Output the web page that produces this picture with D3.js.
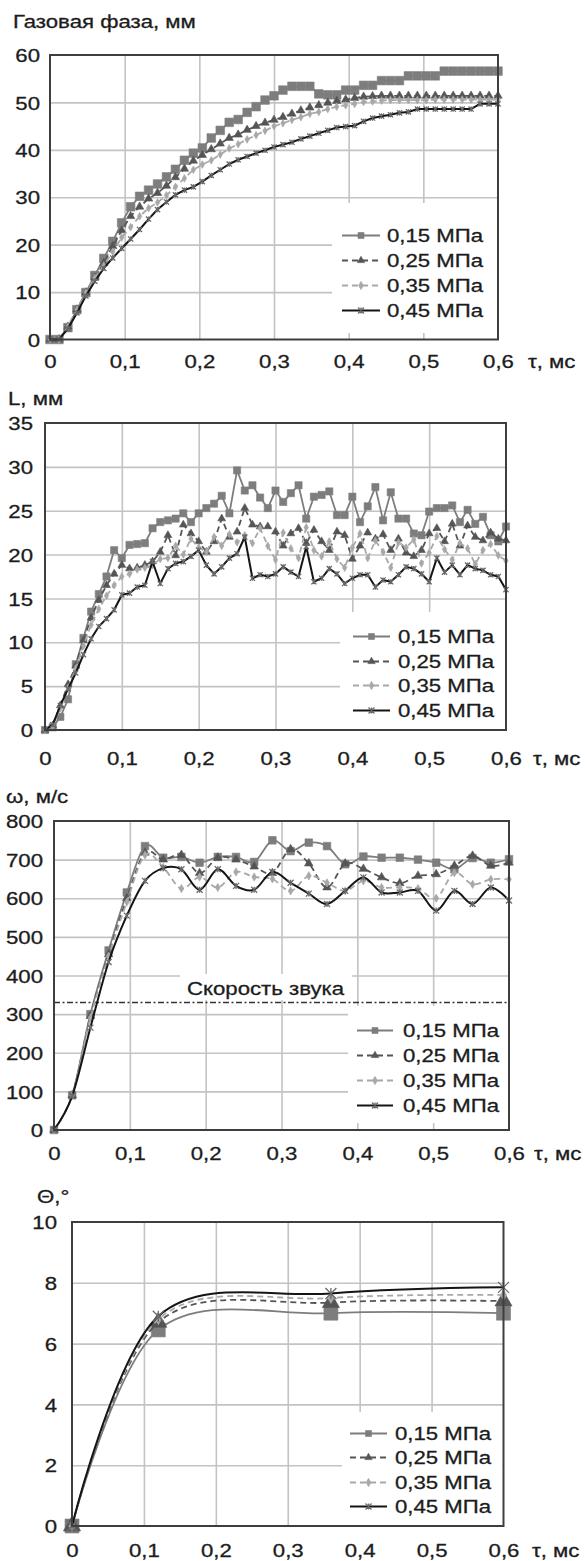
<!DOCTYPE html>
<html>
<head>
<meta charset="utf-8">
<script src="https://cdn.jsdelivr.net/npm/d3@7"></script>
<style>
  body { margin: 0; background: #fff; }
  svg text { font-family: "Liberation Sans", Arial, sans-serif; font-size: 18.5px; fill: #1c1c1c; stroke: #1c1c1c; stroke-width: 0.3px; }
</style>
</head>
<body>
<script>
// ---- data ----
const seriesLabels = ['0,15 МПа', '0,25 МПа', '0,35 МПа', '0,45 МПа'];
const xTickVals = [0, 0.1, 0.2, 0.3, 0.4, 0.5, 0.6];

// panel 1: gas phase, mm
const t1 = [0,0.012,0.024,0.036,0.048,0.06,0.072,0.084,0.096,0.108,0.12,0.132,0.144,0.156,0.168,0.18,0.192,0.204,0.216,0.228,0.24,0.252,0.264,0.276,0.288,0.3,0.312,0.324,0.336,0.348,0.36,0.372,0.384,0.396,0.408,0.42,0.432,0.444,0.456,0.468,0.48,0.492,0.504,0.516,0.528,0.54,0.552,0.564,0.576,0.588,0.6];
const gas015 = [0,0,2.5,6.3,9.9,13.5,17.1,20.7,24.6,28,30.2,31.5,32.8,34.3,35.9,37.8,39.3,40.4,42.5,44.1,45.8,46.4,47.9,49.1,50.5,51.4,52.6,53.4,53.4,53.4,51.8,51.6,51.6,52.6,52.6,53.6,53.6,54.6,54.6,54.6,55.6,55.6,55.6,55.6,56.6,56.6,56.6,56.6,56.6,56.6,56.6];
const gas025 = [0,0,2.7,6.3,9.9,13,16.1,19.7,23,26,28,29.7,30.9,32.4,34.2,36,37.7,38.9,40.1,41.3,42.5,43.2,44.2,45,45.7,46.3,46.9,47.6,48.3,48.9,49.4,49.9,50.3,50.6,50.9,51.2,51.3,51.4,51.4,51.4,51.4,51.4,51.4,51.4,51.4,51.4,51.4,51.4,51.4,51.4,51.4];
const gas035 = [0,0,2.7,6.3,9.9,13,15.6,18.5,21.5,23.7,26,27.7,28.9,30.4,32.2,34,35.8,36.9,37.8,39,40.3,41.2,42.2,43.1,44,45,45.6,46.3,46.9,47.6,48,48.6,49.1,49.4,49.7,50.1,50.2,50.4,50.5,50.5,50.5,50.5,50.5,50.6,50.6,50.6,50.6,50.6,50.6,50.6,50.6];
const gas045 = [0,0,2.3,5.6,9.2,12.3,15,17.2,19.2,21.2,23.2,25.4,27.4,29,30.5,31.5,32.2,33.3,34.6,35.8,37,37.9,38.6,39.3,39.9,40.6,41.1,41.6,42.3,42.9,43.5,44.1,44.7,44.9,45.1,46,46.7,47.1,47.4,47.8,48,48.6,48.6,48.6,48.6,48.6,48.6,48.6,49.7,49.7,49.7];

// panel 2: L, mm
const t2 = [0,0.01,0.02,0.03,0.04,0.05,0.06,0.07,0.08,0.09,0.1,0.11,0.12,0.13,0.14,0.15,0.16,0.17,0.18,0.19,0.2,0.21,0.22,0.23,0.24,0.25,0.26,0.27,0.28,0.29,0.3,0.31,0.32,0.33,0.34,0.35,0.36,0.37,0.38,0.39,0.4,0.41,0.42,0.43,0.44,0.45,0.46,0.47,0.48,0.49,0.5,0.51,0.52,0.53,0.54,0.55,0.56,0.57,0.58,0.59,0.6];
const len015 = [0,0.3,1.5,3.5,7.5,10.5,13.5,15.5,17.5,20.5,19.6,21.1,21.2,21.3,23,23.7,23.9,24.1,24.7,23.7,24.7,25.3,25.8,26.7,24.7,29.6,27.3,27.9,26.5,25.3,27.3,26,27,27.9,24.1,26.6,26.8,27.2,24.5,24.5,26.6,23.7,25.5,27.7,23.9,27.1,24.1,24.1,22.4,22.2,24.9,25.3,25.3,25.6,23.7,25.1,23.5,24.3,22.2,21.5,23.2];
const len025 = [0,0.5,2.8,5.2,7.3,10.2,12.8,14.8,16.5,17.8,18.8,18.4,18.5,18.8,19.2,20.3,22.2,19.9,23.4,22.4,21.5,20.3,21.5,24.1,22,22.6,25.3,23.4,23.2,23.2,22.6,21,22.4,23,21.3,22.8,21.5,20.5,22.6,22.2,19.5,21,22.5,21.8,22.3,20.5,21.8,20.2,19.8,20.5,22.4,23,21.5,23.5,21,23.3,22,21.6,22.5,21.8,21.6];
const len035 = [0,0.4,2.5,4.8,7,9.6,12,13.8,15.3,16.5,17.5,17.8,18.3,18.5,18.8,19.5,19.6,21,20,21.8,20.8,20.3,22,21,22.3,21.4,22.2,21.3,23,21,19.4,22.5,20.7,19.6,23.1,20.5,19.8,21.5,19.5,18.5,20.8,22.4,19.6,21.6,20.3,18.5,21.4,20.8,21.7,19,20.2,22.1,20.6,19.4,21.3,20.7,18.9,20.5,21.2,19.9,19.3];
const len045 = [0,0.6,2.8,4.7,6.5,8.6,10.4,11.8,12.7,13.7,15.4,15.6,16.3,16.5,19.2,16.7,18.4,19,19.2,19.8,20.5,18.8,17.8,18.6,19.6,20.1,22,17.3,17.7,17.5,17.8,18.6,18,17.5,20.9,16.9,17.3,18.4,17.8,16.7,17.3,17.7,17.7,16.3,17.1,16.9,17.7,18.6,18.4,17.8,16.9,19.6,18,18.8,17.7,18.8,18.4,18.2,17.7,17.5,16];

// panel 3: velocity, m/s
const t3 = [0,0.024,0.048,0.072,0.096,0.12,0.144,0.168,0.192,0.216,0.24,0.264,0.288,0.312,0.336,0.36,0.384,0.408,0.432,0.456,0.48,0.504,0.528,0.552,0.576,0.6];
const vel015 = [0,90,300,465,615,735,705,707,692,707,707,694,750,722,744,735,688,708,705,705,700,692,675,704,692,701];
const vel025 = [0,90,295,455,600,718,700,712,665,705,700,682,665,727,690,628,690,676,654,639,658,662,684,710,684,692];
const vel035 = [0,90,290,450,590,712,680,625,655,628,668,655,650,619,658,640,619,645,628,628,625,600,666,636,649,649];
const vel045 = [0,88,265,435,555,645,678,675,622,675,632,622,668,640,612,585,619,654,615,615,619,568,619,585,628,594];
const soundSpeed = 330;

// panel 4: angle, degrees
const t4 = [0, 0.12, 0.36, 0.6];
const ang015 = [0, 6.45, 7.0, 7.0];
const ang025 = [0, 6.7, 7.35, 7.4];
const ang035 = [0, 6.8, 7.5, 7.6];
const ang045 = [0, 6.9, 7.65, 7.85];

const yTicks1 = [0, 10, 20, 30, 40, 50, 60];
const yTicks2 = [0, 5, 10, 15, 20, 25, 30, 35];
const yTicks3 = [0, 100, 200, 300, 400, 500, 600, 700, 800];
const yTicks4 = [0, 2, 4, 6, 8, 10];

// ---- drawing ----
const SX = 1.2; // the source glyphs are horizontally stretched
const fmt = d3.formatLocale({decimal: ',', thousands: ' ', grouping: [3], currency: ['', '']}).format('~g');

const styles = [
  {stroke: '#7d7d7d', dash: null,  marker: 'square',   fill: '#7d7d7d', mstroke: '#7d7d7d', w: 1.8},
  {stroke: '#555555', dash: '6,4', marker: 'triangle', fill: '#555555', mstroke: '#555555', w: 1.8},
  {stroke: '#a8a8a8', dash: '6,4', marker: 'diamond',  fill: '#a8a8a8', mstroke: '#a8a8a8', w: 1.8},
  {stroke: '#151515', dash: null,  marker: 'star',     fill: 'none',    mstroke: '#6a6a6a', w: 2}
];

function markerPath(type, s) {
  if (type === 'star') return `M${-s},${-s}L${s},${s}M${-s},${s}L${s},${-s}M0,${-s}L0,${s}`;
  if (type === 'square') return d3.symbol(d3.symbolSquare, 4 * s * s)();
  if (type === 'triangle') return d3.symbol(d3.symbolTriangle, 2.6 * s * s)();
  return d3.symbol(d3.symbolDiamond, 2.2 * s * s)();
}

const svg = d3.select('body').append('svg').attr('width', 585).attr('height', 1561);

function txt(g, x, y, str, anchor) {
  return g.append('text')
    .attr('transform', `translate(${x},${y}) scale(${SX},1)`)
    .attr('text-anchor', anchor || 'start')
    .text(str);
}

const panels = [
  {title: 'Газовая фаза, мм', titleX: 13, titleY: 28,
   left: 50, right: 498, top: 55, bottom: 339.5, yDomain: [0, 60], yTicks: yTicks1, yGap: 10,
   xLabelY: 368, tauX: 528, t: t1, series: [gas015, gas025, gas035, gas045], curve: d3.curveLinear,
   msize: [4.3, 3.4, 2.8, 2.6],
   legend: {x0: 332, y0: 203, y1: 333, lx0: 342, lx1: 380, tx: 387, rows: [242, 267, 292, 317]}},
  {title: 'L, мм', titleX: 8, titleY: 405,
   left: 45, right: 506, top: 423, bottom: 730, yDomain: [0, 35], yTicks: yTicks2, yGap: 12,
   xLabelY: 765, tauX: 533, t: t2, series: [len015, len025, len035, len045], curve: d3.curveLinear,
   msize: [3.6, 3.2, 2.8, 2.6],
   legend: {x0: 340, y0: 612, y1: 729, lx0: 353, lx1: 390, tx: 398, rows: [643, 668, 692, 717]}},
  {title: 'ω, м/с', titleX: 6, titleY: 803,
   left: 54, right: 509, top: 821, bottom: 1130, yDomain: [0, 800], yTicks: yTicks3, yGap: 11,
   xLabelY: 1160, tauX: 534, t: t3, series: [vel015, vel025, vel035, vel045], curve: d3.curveCardinal,
   msize: [3.8, 3.5, 3, 3],
   legend: {x0: 348, y0: 1006, y1: 1123, lx0: 357, lx1: 393, tx: 403, rows: [1037, 1062, 1087, 1112]},
   sound: true},
  {title: 'Θ,°', titleX: 37, titleY: 1203,
   left: 72, right: 503.5, top: 1222, bottom: 1526, yDomain: [0, 10], yTicks: yTicks4, yGap: 15,
   xLabelY: 1557, tauX: 532, t: t4, series: [ang015, ang025, ang035, ang045], curve: d3.curveCardinal,
   msize: [7, 7, 4, 5.5],
   legend: {x0: 342, y0: 1412, y1: 1525, lx0: 350, lx1: 387, tx: 395, rows: [1440, 1464, 1489, 1513]}}
];

panels.forEach(cfg => {
  const x = d3.scaleLinear().domain([0, 0.6]).range([cfg.left, cfg.right]);
  const y = d3.scaleLinear().domain(cfg.yDomain).range([cfg.bottom, cfg.top]);
  const g = svg.append('g');
  const w = cfg.right - cfg.left, h = cfg.bottom - cfg.top;

  // gridlines
  const gx = g.append('g').attr('transform', `translate(0,${cfg.bottom})`)
    .call(d3.axisBottom(x).tickValues(xTickVals.slice(1, -1)).tickSize(-h).tickFormat(''));
  const gy = g.append('g').attr('transform', `translate(${cfg.left},0)`)
    .call(d3.axisLeft(y).tickValues(cfg.yTicks.slice(1, -1)).tickSize(-w).tickFormat(''));
  [gx, gy].forEach(a => {
    a.select('.domain').remove();
    a.selectAll('line').attr('stroke', '#c3c3c3').attr('stroke-width', 1.6);
  });

  // tick labels
  const ax = g.append('g').attr('transform', `translate(0,${cfg.bottom})`)
    .call(d3.axisBottom(x).tickValues(xTickVals).tickSize(0).tickFormat(fmt));
  ax.select('.domain').remove();
  ax.selectAll('text').attr('y', null).attr('dy', null)
    .attr('transform', `translate(0,${cfg.xLabelY - cfg.bottom}) scale(${SX},1)`);
  const ay = g.append('g').attr('transform', `translate(${cfg.left},0)`)
    .call(d3.axisLeft(y).tickValues(cfg.yTicks).tickSize(0));
  ay.select('.domain').remove();
  ay.selectAll('text').attr('x', null).attr('dy', '0.36em')
    .attr('transform', `translate(${-cfg.yGap},0) scale(${SX},1)`);
  [ax, ay].forEach(a => a.attr('font-size', null).attr('font-family', null));

  txt(g, cfg.titleX, cfg.titleY, cfg.title);
  txt(g, cfg.tauX, cfg.xLabelY, 'τ, мс');

  // legend box (white, covers gridlines)
  const L = cfg.legend;
  g.append('rect').attr('x', L.x0).attr('y', L.y0)
    .attr('width', cfg.right - 1 - L.x0).attr('height', L.y1 - L.y0).attr('fill', '#fff');

  if (cfg.sound) {
    g.append('rect').attr('x', 180).attr('y', 974).attr('width', 172).attr('height', 26).attr('fill', '#fff');
    txt(g, 187, 995, 'Скорость звука');
    g.append('line')
      .attr('x1', cfg.left).attr('x2', cfg.right)
      .attr('y1', y(soundSpeed)).attr('y2', y(soundSpeed))
      .attr('stroke', '#333').attr('stroke-width', 1.6).attr('stroke-dasharray', '6,2.5,2,2.5');
  }

  // series
  const line = d3.line().x(d => x(d[0])).y(d => y(d[1])).curve(cfg.curve);
  cfg.series.forEach((vals, i) => {
    const st = styles[i];
    const pts = d3.zip(cfg.t, vals);
    g.append('path').datum(pts).attr('d', line)
      .attr('fill', 'none').attr('stroke', st.stroke).attr('stroke-width', st.w)
      .attr('stroke-dasharray', st.dash);
    g.append('g').selectAll('path').data(pts).join('path')
      .attr('transform', d => `translate(${x(d[0])},${y(d[1])})`)
      .attr('d', markerPath(st.marker, cfg.msize[i]))
      .attr('fill', st.fill).attr('stroke', st.mstroke)
      .attr('stroke-width', st.marker === 'star' ? 1.3 : 0.6);
  });

  // legend entries
  seriesLabels.forEach((lab, i) => {
    const st = styles[i];
    const cy = L.rows[i] - 6.5;
    g.append('line').attr('x1', L.lx0).attr('x2', L.lx1).attr('y1', cy).attr('y2', cy)
      .attr('stroke', st.stroke).attr('stroke-width', 2).attr('stroke-dasharray', st.dash);
    g.append('path').attr('transform', `translate(${(L.lx0 + L.lx1) / 2},${cy})`)
      .attr('d', markerPath(st.marker, 3))
      .attr('fill', st.fill).attr('stroke', st.mstroke).attr('stroke-width', st.marker === 'star' ? 1.3 : 0.6);
    txt(g, L.tx, L.rows[i], lab);
  });

  // frame
  g.append('rect').attr('x', cfg.left).attr('y', cfg.top).attr('width', w).attr('height', h)
    .attr('fill', 'none').attr('stroke', '#3e3e3e').attr('stroke-width', 2);
});
</script>
</body>
</html>
